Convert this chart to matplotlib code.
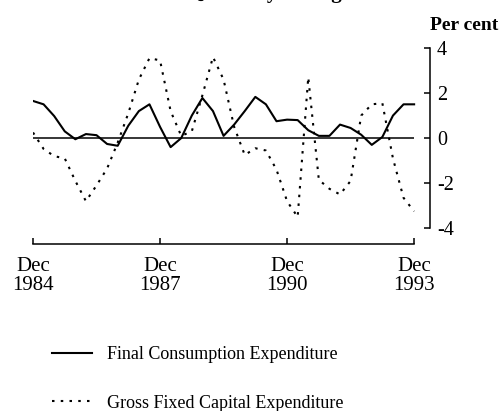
import matplotlib
matplotlib.use("Agg")
import matplotlib.pyplot as plt
import numpy as np

# Quarterly, Dec 1984 .. Dec 1993 (37 quarters)
quarters = list(range(37))
final_consumption = [1.65, 1.5, 0.98, 0.3, -0.05, 0.18, 0.13, -0.26, -0.34, 0.55,
                     1.2, 1.5, 0.5, -0.4, 0.0, 1.0, 1.78, 1.2, 0.1, 0.6,
                     1.2, 1.83, 1.5, 0.75, 0.82, 0.8, 0.35, 0.1, 0.1, 0.6,
                     0.45, 0.15, -0.3, 0.05, 1.0, 1.5, 1.5]
gross_fixed_capital = [0.25, -0.48, -0.8, -0.9, -1.9, -2.8, -2.1, -1.35, -0.2, 1.1,
                       2.6, 3.55, 3.45, 1.2, 0.1, 0.3, 1.9, 3.6, 2.6, 0.5,
                       -0.75, -0.45, -0.55, -1.4, -2.8, -3.5, 2.7, -1.85, -2.25, -2.5,
                       -1.9, 1.0, 1.5, 1.55, -0.9, -2.65, -3.25]
xtick_pos = [0, 12, 24, 36]
xtick_labels = ["Dec\n1984", "Dec\n1987", "Dec\n1990", "Dec\n1993"]
ytick_pos = [4, 2, 0, -2, -4]
ytick_labels = ["4", "2", "0", "-2", "-4"]
series_names = ["Final Consumption Expenditure", "Gross Fixed Capital Expenditure"]

plt.rcParams['font.family'] = ['Liberation Serif', 'DejaVu Serif']

W, H = 503, 411
fig = plt.figure(figsize=(W / 100, H / 100), dpi=100)
fig.patch.set_facecolor("white")

ax_left, ax_right, ax_top, ax_bottom = 33, 430, 48, 244
ax = fig.add_axes([ax_left / W, 1 - ax_bottom / H, (ax_right - ax_left) / W, (ax_bottom - ax_top) / H])
ax.set_xlim(0, 37.5)
ax.set_ylim(-4.7, 4.0)

l1, = ax.plot(quarters, final_consumption, color="black", lw=1.5, solid_joinstyle="round")
l2, = ax.plot(quarters, gross_fixed_capital, color="black", lw=1.5, linestyle=(0, (1.2, 3.0)))
ax.hlines(0, quarters[0], quarters[-1], color="black", lw=1.1)

for s in ["left", "top"]:
    ax.spines[s].set_visible(False)
ax.spines["right"].set_bounds(-4, 4)
ax.spines["bottom"].set_bounds(xtick_pos[0], xtick_pos[-1])
ax.spines["right"].set_linewidth(1.1)
ax.spines["bottom"].set_linewidth(1.1)

ax.yaxis.tick_right()
ax.set_yticks(ytick_pos)
ax.set_yticklabels(ytick_labels)
ax.set_xticks(xtick_pos)
ax.set_xticklabels(xtick_labels, linespacing=1.05)
ax.tick_params(axis="y", direction="in", length=4.5, width=1.1, pad=5, labelsize=14.5)
ax.tick_params(axis="x", direction="in", length=4, width=1.1, pad=9, labelsize=15)

fig.text(ax_right / W, 1 - 30 / H, "Per cent", fontsize=14, fontweight="bold",
         ha="left", va="baseline")
fig.text(270 / W, 1 + 2 / H, "Quarterly Change", fontsize=15, fontweight="bold",
         ha="center", va="baseline")

fig.legend([l1, l2], series_names, loc="upper left", bbox_to_anchor=(52 / W, 1 - 346 / H),
           frameon=False, fontsize=13, handlelength=2.2, handletextpad=0.85,
           labelspacing=1.75, borderpad=0, borderaxespad=0)

fig.savefig("out.png", dpi=100, facecolor="white")
